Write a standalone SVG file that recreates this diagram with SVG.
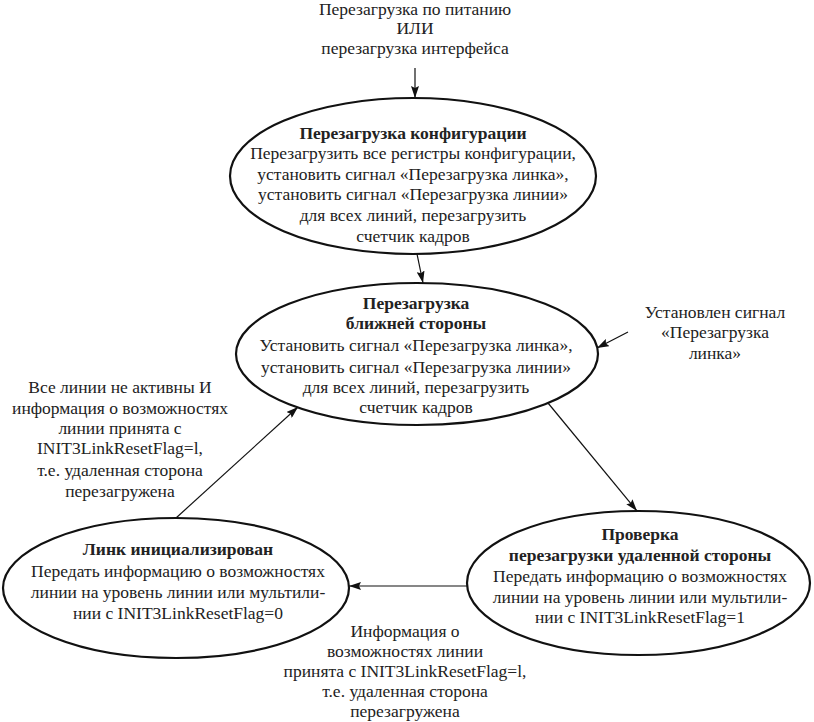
<svg xmlns="http://www.w3.org/2000/svg" width="814" height="722" viewBox="0 0 814 722">
<style>
text{font-family:'Liberation Serif','Times New Roman',serif;font-size:17.5px;fill:#222;text-anchor:middle}
.b{font-weight:bold}
.e{fill:#fff;stroke:#111;stroke-width:2.2}
.c{stroke:#111;stroke-width:1.2;fill:none;marker-end:url(#ah)}
</style>
<defs>
<marker id="ah" viewBox="0 0 12 8" refX="12" refY="4" markerWidth="12" markerHeight="8" markerUnits="userSpaceOnUse" orient="auto">
<path d="M0,0 L12,4 L0,8 L2,4 Z" fill="#111"/>
</marker>
</defs>
<rect width="814" height="722" fill="#fff"/>
<g id="connectors">
<line class="c" x1="415" y1="68" x2="415" y2="98"/>
<line class="c" x1="417" y1="254" x2="423" y2="283"/>
<line class="c" x1="628" y1="332" x2="597" y2="348"/>
<line class="c" x1="176" y1="518" x2="298" y2="407"/>
<line class="c" x1="548" y1="403" x2="637" y2="511"/>
<line class="c" x1="467" y1="586" x2="349" y2="586"/>
</g>
<g id="start-label">
<text x="415" y="15">Перезагрузка по питанию</text>
<text x="415" y="34">ИЛИ</text>
<text x="415" y="54">перезагрузка интерфейса</text>
</g>
<g id="config-reset">
<ellipse class="e" cx="413" cy="176" rx="183" ry="78"/>
<text class="b" x="413" y="139">Перезагрузка конфигурации</text>
<text x="413" y="159">Перезагрузить все регистры конфигурации,</text>
<text x="413" y="180">установить сигнал «Перезагрузка линка»,</text>
<text x="413" y="200">установить сигнал «Перезагрузка линии»</text>
<text x="413" y="221">для всех линий, перезагрузить</text>
<text x="413" y="242">счетчик кадров</text>
</g>
<g id="near-reset">
<ellipse class="e" cx="417" cy="354" rx="181" ry="71"/>
<text class="b" x="416" y="309">Перезагрузка</text>
<text class="b" x="416" y="329">ближней стороны</text>
<text x="416" y="351">Установить сигнал «Перезагрузка линка»,</text>
<text x="416" y="373">установить сигнал «Перезагрузка линии»</text>
<text x="416" y="393">для всех линий, перезагрузить</text>
<text x="416" y="413">счетчик кадров</text>
</g>
<g id="link-reset-label">
<text x="715" y="318">Установлен сигнал</text>
<text x="715" y="338">«Перезагрузка</text>
<text x="715" y="359">линка»</text>
</g>
<g id="left-label">
<text x="120" y="393">Все линии не активны И</text>
<text x="120" y="414">информация о возможностях</text>
<text x="120" y="434">линии принята с</text>
<text x="120" y="454">INIT3LinkResetFlag=l,</text>
<text x="120" y="476">т.е. удаленная сторона</text>
<text x="120" y="497">перезагружена</text>
</g>
<g id="link-init">
<ellipse class="e" cx="176" cy="588" rx="173" ry="70"/>
<text class="b" x="178" y="555">Линк инициализирован</text>
<text x="178" y="577">Передать информацию о возможностях</text>
<text x="178" y="598">линии на уровень линии или мультили-</text>
<text x="178" y="619">нии с INIT3LinkResetFlag=0</text>
</g>
<g id="remote-check">
<ellipse class="e" cx="638.5" cy="583" rx="171.5" ry="72"/>
<text class="b" x="640" y="540">Проверка</text>
<text class="b" x="640" y="561">перезагрузки удаленной стороны</text>
<text x="640" y="582">Передать информацию о возможностях</text>
<text x="640" y="603">линии на уровень линии или мультили-</text>
<text x="640" y="623">нии с INIT3LinkResetFlag=1</text>
</g>
<g id="bottom-label">
<text x="405" y="637">Информация о</text>
<text x="405" y="657">возможностях линии</text>
<text x="405" y="677">принята с INIT3LinkResetFlag=l,</text>
<text x="405" y="697">т.е. удаленная сторона</text>
<text x="405" y="717">перезагружена</text>
</g>
</svg>
